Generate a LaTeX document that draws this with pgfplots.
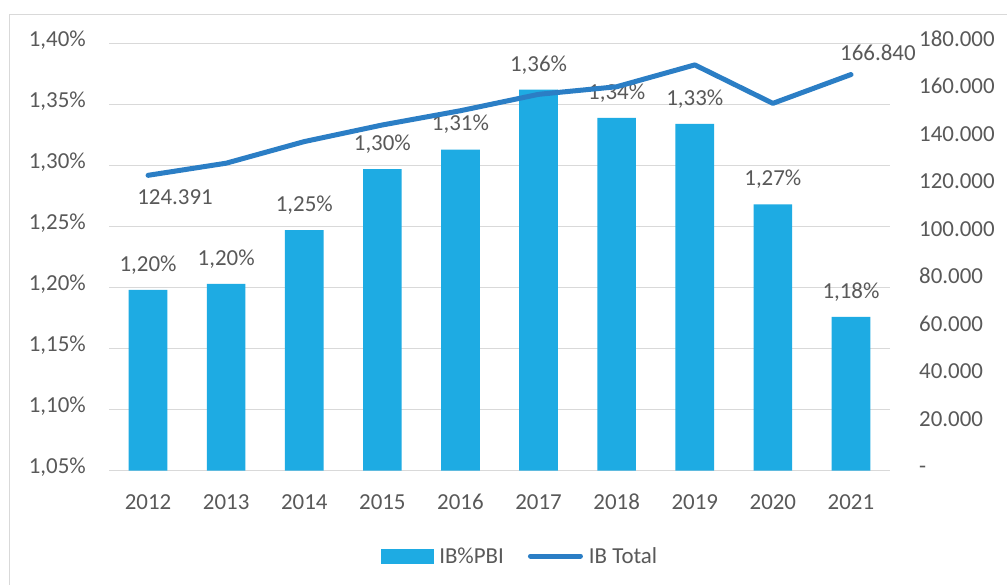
\documentclass[border=0pt]{standalone}
\usepackage{pgfplots}
\pgfplotsset{compat=1.18}
\usepackage{fontspec}
\setmainfont{Carlito}
\definecolor{barblue}{RGB}{30,171,227}
\definecolor{lineblue}{RGB}{43,126,197}
\definecolor{txt}{RGB}{89,89,89}
\definecolor{gridc}{RGB}{217,217,217}
\newcommand{\cf}{\fontsize{23}{27}\selectfont}
\begin{document}
\begin{tikzpicture}[x=1bp,y=1bp]
\useasboundingbox (0,0) rectangle (1007,585);
\fill[white] (0,0) rectangle (1007,585);
\draw[gridc, line width=1.2bp] (9.5,-20) -- (9.5,570.5) -- (1030,570.5);
\begin{axis}[
  at={(109bp,114.3bp)}, anchor=south west,
  width=781bp, height=427.4bp, scale only axis,
  xmin=-0.5, xmax=9.5, ymin=1.05, ymax=1.40,
  axis line style={draw=none}, major tick length=0pt,
  ymajorgrids, grid style={gridc, line width=1bp},
  xtick={0,...,9}, xticklabels={2012,2013,2014,2015,2016,2017,2018,2019,2020,2021},
  ytick={1.05,1.1,1.15,1.2,1.25,1.3,1.35,1.4},
  yticklabel={\pgfmathprintnumber[fixed,fixed zerofill,precision=2,use comma]{\tick}\%},
  /pgf/number format/assume math mode=true,
  every tick label/.append style={text=txt, font=\cf, inner sep=0pt},
  yticklabel style={anchor=base east, xshift=-23bp, yshift=-0.32em},
  xticklabel style={anchor=base, yshift=-39.3bp},
]
\addplot[ybar, bar width=0.495, fill=barblue, draw=none,
  point meta=y,
  nodes near coords={\pgfmathprintnumber[fixed,fixed zerofill,precision=2,use comma]{\pgfplotspointmeta}\%},
  nodes near coords style={anchor=center, yshift=25bp, text=txt, font=\cf, inner sep=0pt}]
 coordinates {(0,1.198) (1,1.203) (2,1.247) (3,1.297) (4,1.313) (5,1.362) (6,1.339) (7,1.334) (8,1.268) (9,1.176)};
\end{axis}
\begin{axis}[
  at={(109bp,114.3bp)}, anchor=south west,
  width=781bp, height=427.4bp, scale only axis,
  xmin=-0.5, xmax=9.5, ymin=0, ymax=180000,
  axis line style={draw=none}, major tick length=0pt,
  axis y line*=right, axis x line=none,
  scaled y ticks=false,
  clip=false,
  ytick={0,20000,40000,60000,80000,100000,120000,140000,160000,180000},
  yticklabels={-,20.000,40.000,60.000,80.000,100.000,120.000,140.000,160.000,180.000},
  every tick label/.append style={text=txt, font=\cf, inner sep=0pt},
  yticklabel style={anchor=base west, xshift=29bp, yshift=-0.32em},
  legend style={at={(0.525,-0.1996)}, anchor=center, draw=none, fill=none,
    legend columns=2, font=\cf, text=txt, inner sep=0pt,
    nodes={inner sep=0pt},
    /tikz/every odd column/.append style={column sep=6bp},
    /tikz/every even column/.append style={column sep=24bp},
    legend cell align=left},
]
\addlegendimage{legend image code/.code={\fill[barblue] (0bp,-7bp) rectangle (52bp,7bp);}}
\addlegendentry{IB\%PBI}
\addplot[lineblue, line width=5bp, line join=round, line cap=round, mark=none,
  legend image code/.code={\draw[lineblue, line width=5bp, line cap=round] (2.5bp,0bp) -- (52.5bp,0bp);}]
 coordinates {(0,124391) (1,129500) (2,138600) (3,145600) (4,151600) (5,158500) (6,161700) (7,170900) (8,154700) (9,166840)};
\addlegendentry{IB Total}
\addplot[draw=none, mark=none, forget plot, nodes near coords={124.391},
  nodes near coords style={anchor=center, xshift=27bp, yshift=-22bp, text=txt, font=\cf, inner sep=0pt}]
 coordinates {(0,124391)};
\addplot[draw=none, mark=none, forget plot, nodes near coords={166.840},
  nodes near coords style={anchor=center, xshift=27bp, yshift=22bp, text=txt, font=\cf, inner sep=0pt}]
 coordinates {(9,166840)};
\end{axis}
\end{tikzpicture}
\end{document}
